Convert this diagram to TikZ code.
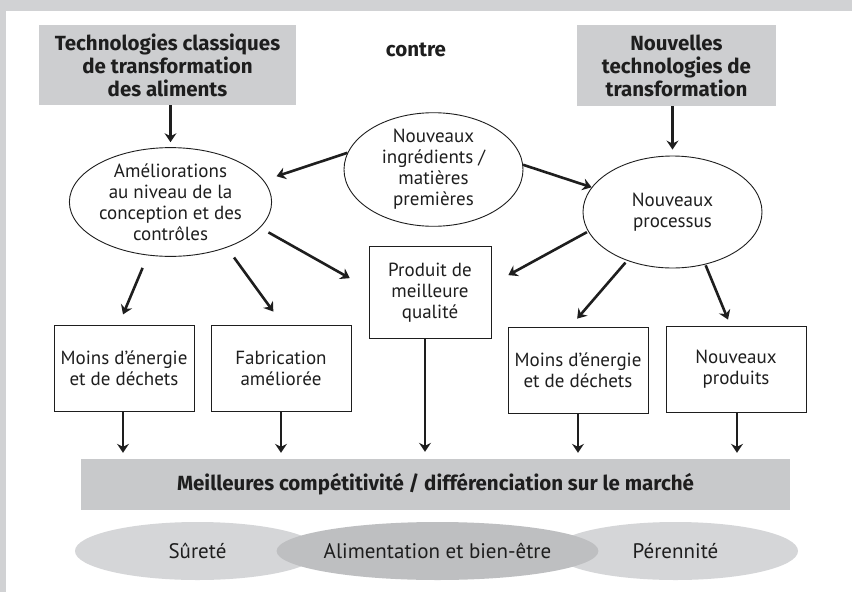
\documentclass[tikz,border=0pt]{standalone}
\usepackage{fontspec}
\setmainfont{PT Sans}
\newfontfamily\headfont{Fira Sans}
\usetikzlibrary{shapes.geometric,arrows.meta}
\definecolor{framegray}{RGB}{209,210,212}
\definecolor{boxgray}{RGB}{205,206,208}
\definecolor{bargray}{RGB}{200,201,203}
\definecolor{ellight}{RGB}{213,214,216}
\definecolor{eldark}{RGB}{190,191,193}
\definecolor{ink}{RGB}{30,30,30}
\tikzset{
  txt/.style={font=\fontsize{19}{21}\selectfont, text=ink, align=center},
  bold/.style={font=\headfont\fontsize{20.5}{23}\selectfont\bfseries, text=ink, align=center},
  graybox/.style={bold, rectangle, fill=boxgray, inner sep=0pt},
  whitebox/.style={txt, rectangle, draw=ink, line width=0.9pt, inner sep=0pt, minimum width=140pt, minimum height=86pt},
  oval/.style={txt, ellipse, draw=ink, line width=0.9pt, inner sep=0pt},
  flat/.style={txt, font=\fontsize{21}{24}\selectfont, ellipse, inner sep=0pt, minimum width=245pt, minimum height=58pt},
  arr/.style={draw=ink, line width=2.6pt, -{Stealth[length=9pt,width=12pt,inset=3pt]}},
}
\begin{document}
\begin{tikzpicture}[x=1pt,y=-1pt]
\useasboundingbox (0,0) rectangle (852,592);
\fill[white] (0,0) rectangle (852,592);
\fill[framegray] (0,0) rectangle (852,11);
\fill[framegray] (0,0) rectangle (6,592);

\node[graybox, minimum width=257pt, minimum height=80pt] (tl) at (167.5,65) {Technologies classiques\\de transformation\\des aliments};
\node[bold] (contre) at (416,50) {contre};
\node[graybox, minimum width=199pt, minimum height=81pt] (tr) at (676.5,65.5) {Nouvelles\\technologies de\\transformation};

\node[oval, minimum width=175pt, minimum height=104pt] (amel) at (170.5,202) {Améliorations\\au niveau de la\\conception et des\\contrôles};
\node[oval, minimum width=179pt, minimum height=111pt] (nouv) at (433.5,169.5) {Nouveaux\\ingrédients /\\matières\\premières};
\node[oval, minimum width=179pt, minimum height=112pt] (proc) at (672.5,212) {Nouveaux\\processus};

\node[whitebox, minimum width=122pt, minimum height=92pt, anchor=north] (prod) at (430,246) {Produit de\\meilleure\\qualité};
\node[whitebox] (box1) at (124,368) {Moins d’énergie\\et de déchets};
\node[whitebox] (box2) at (281,368) {Fabrication\\améliorée};
\node[whitebox] (box4) at (578,370) {Moins d’énergie\\et de déchets};
\node[whitebox] (box5) at (736,369) {Nouveaux\\produits};

\node[bold, fill=bargray, minimum width=709pt, minimum height=51pt, inner sep=0pt] (bar) at (435.5,484.5) {Meilleures compétitivité / différenciation sur le marché};

\node[flat, fill=ellight] (sur) at (197.5,551) {Sûreté};
\node[flat, fill=ellight] (pere) at (675.5,551) {Pérennité};
\node[flat, fill=eldark, minimum width=259pt] (alim) at (437.5,551) {Alimentation et bien-être};

% arrows from top boxes
\draw[arr, shorten >=5pt] (amel.north |- tl.south) -- (amel.north);
\draw[arr, shorten >=6pt] (proc.north |- tr.south) -- (proc.north);

% from centre ellipse
\draw[arr, shorten >=13.3pt] (nouv.169.1) -- (amel.13.3);
\draw[arr] (nouv.3.6) -- (proc.163.2);

% from left ellipse
\draw[arr, shorten <=13.5pt, shorten >=11pt] (amel.-113.2) -- ([xshift=-5.2pt]box1.north);
\draw[arr, shorten <=12.2pt, shorten >=16pt] (amel.-39.7) -- ([xshift=1.75pt]box2.north);
\draw[arr, shorten <=9.5pt, shorten >=21.6pt] (amel.-16) -- ([yshift=3.7pt]prod.west);

% from right ellipse
\draw[arr, shorten <=1.3pt, shorten >=19.2pt] (proc.193.8) -- ([yshift=8.1pt]prod.east);
\draw[arr, shorten <=2.5pt, shorten >=10.5pt] (proc.-133.7) -- ([xshift=-7.7pt]box4.north);
\draw[arr, shorten <=0.8pt, shorten >=6.5pt] (proc.-58.4) -- ([xshift=-5.5pt]box5.north);

% down to bar
\draw[arr, shorten >=6pt] ([xshift=-1pt]box1.south) -- ([xshift=-1pt]box1.south |- bar.north);
\draw[arr, shorten >=6pt] (box2.south) -- (box2.south |- bar.north);
\draw[arr, shorten >=7pt] ([xshift=-5pt]prod.south) -- ([xshift=-5pt]prod.south |- bar.north);
\draw[arr, shorten >=6pt] (box4.south) -- (box4.south |- bar.north);
\draw[arr, shorten >=6pt] ([xshift=1pt]box5.south) -- ([xshift=1pt]box5.south |- bar.north);
\end{tikzpicture}
\end{document}
